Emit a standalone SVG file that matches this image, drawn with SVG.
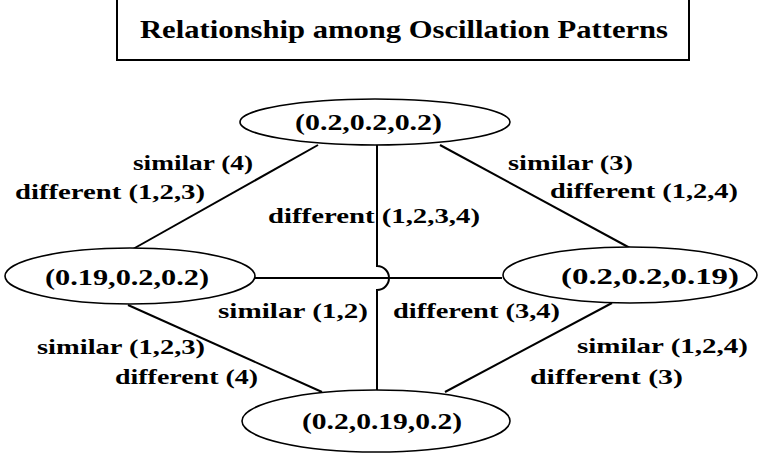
<svg xmlns="http://www.w3.org/2000/svg" width="765" height="459" viewBox="0 0 765 459">
<style>
.t{font-family:"Liberation Serif","Times New Roman",serif;font-weight:bold;fill:#000}
.title{font-size:25px}
.n{font-size:24px}
.l{font-size:22px}
.e{fill:#fff;stroke:#000;stroke-width:1.6}
.c{fill:none;stroke:#000;stroke-width:2}
</style>
<rect width="765" height="459" fill="#fff"/>
<g id="title">
<rect x="117" y="-2" width="572" height="62" fill="#fff" stroke="#000" stroke-width="2"/>
<text class="t title" x="140" y="38" textLength="528" lengthAdjust="spacingAndGlyphs">Relationship among Oscillation Patterns</text>
</g>
<g id="connectors">
<path class="c" d="M318,145 L133,249"/>
<path class="c" d="M440,145 L630,248"/>
<path class="c" d="M255,278 H502"/>
<path class="c" d="M377,145 V266 A12,12 0 0 1 377,290 V391"/>
<path class="c" d="M128,305 L322,392"/>
<path class="c" d="M612,303 L445,392"/>
</g>
<g id="n-top">
<ellipse class="e" cx="375" cy="122" rx="135" ry="23"/>
<text class="t n" x="295" y="130" textLength="147" lengthAdjust="spacingAndGlyphs">(0.2,0.2,0.2)</text>
</g>
<g id="n-left">
<ellipse class="e" cx="130" cy="276" rx="125" ry="28"/>
<text class="t n" x="45" y="285" textLength="164" lengthAdjust="spacingAndGlyphs">(0.19,0.2,0.2)</text>
</g>
<g id="n-right">
<ellipse class="e" cx="630" cy="275" rx="127" ry="28"/>
<text class="t n" x="561" y="284" textLength="178" lengthAdjust="spacingAndGlyphs">(0.2,0.2,0.19)</text>
</g>
<g id="n-bottom">
<ellipse class="e" cx="376" cy="421" rx="134" ry="31"/>
<text class="t n" x="302" y="429" textLength="160" lengthAdjust="spacingAndGlyphs">(0.2,0.19,0.2)</text>
</g>
<g id="labels">
<text class="t l" x="133" y="170" textLength="120" lengthAdjust="spacingAndGlyphs">similar (4)</text>
<text class="t l" x="15" y="199" textLength="190" lengthAdjust="spacingAndGlyphs">different (1,2,3)</text>
<text class="t l" x="508" y="170" textLength="125" lengthAdjust="spacingAndGlyphs">similar (3)</text>
<text class="t l" x="550" y="198" textLength="188" lengthAdjust="spacingAndGlyphs">different (1,2,4)</text>
<text class="t l" x="268" y="223" textLength="212" lengthAdjust="spacingAndGlyphs">different (1,2,3,4)</text>
<text class="t l" x="218" y="318" textLength="150" lengthAdjust="spacingAndGlyphs">similar (1,2)</text>
<text class="t l" x="393" y="318" textLength="167" lengthAdjust="spacingAndGlyphs">different (3,4)</text>
<text class="t l" x="37" y="354" textLength="168" lengthAdjust="spacingAndGlyphs">similar (1,2,3)</text>
<text class="t l" x="115" y="384" textLength="143" lengthAdjust="spacingAndGlyphs">different (4)</text>
<text class="t l" x="577" y="353" textLength="171" lengthAdjust="spacingAndGlyphs">similar (1,2,4)</text>
<text class="t l" x="530" y="384" textLength="153" lengthAdjust="spacingAndGlyphs">different (3)</text>
</g>
</svg>
